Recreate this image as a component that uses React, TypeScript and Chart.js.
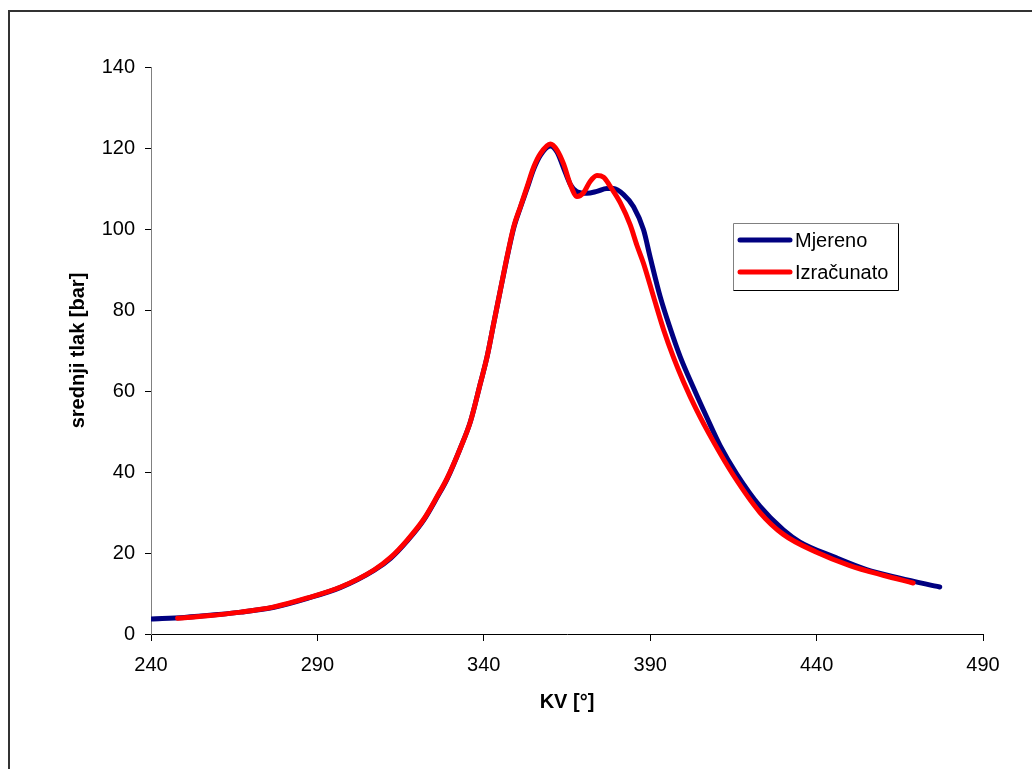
import React, { useEffect, useRef } from "react";
import { Chart, registerables } from "chart.js";

Chart.register(...registerables);

// Mjereno (measured) — crank angle [°] and mean pressure [bar]
const mjerenoKV = [240, 250, 260, 267, 277, 287, 297, 307, 312, 317, 322, 326, 329, 333, 336, 339, 341, 343, 345, 347, 349, 351, 353, 355, 357, 360, 362, 364, 366, 368, 371, 374, 377, 379, 382, 385, 388, 390, 393, 396, 399, 403, 407, 411, 416, 423, 430, 435, 445, 455, 465, 477];
const mjerenoTlak = [3.7, 4.1, 4.8, 5.4, 6.6, 8.8, 11.5, 15.7, 18.7, 23.0, 28.2, 33.8, 38.3, 46, 52.5, 62, 68.5, 76.8, 85, 93, 100.3, 105.3, 110, 114.8, 118.2, 120.5, 119, 115, 111, 109.2, 108.8, 109.3, 110, 110, 108.5, 105.5, 99.8, 93, 83.3, 75.5, 68.5, 60.8, 53.5, 46.5, 39.5, 31.5, 25.7, 22.7, 19.1, 15.9, 13.8, 11.6];

// Izračunato (calculated)
const izracunatoKV = [248, 257, 267, 277, 287, 297, 307, 312, 317, 322, 326, 329, 333, 336, 339, 341, 343, 345, 347, 349, 351, 353, 355, 357, 360, 362, 364, 366, 368, 370, 372, 374, 376, 378, 381, 384, 386, 388, 391, 394, 397, 400, 404, 409, 415, 423, 430, 440, 450, 460, 469];
const izracunatoTlak = [3.9, 4.5, 5.4, 6.7, 8.9, 11.6, 15.8, 18.9, 23.2, 28.4, 34, 38.5, 46, 52.5, 62, 68.5, 76.8, 85, 93.2, 100.6, 105.5, 110.4, 115.3, 118.6, 121, 119.5, 116, 111, 108, 109, 111.8, 113.2, 112.8, 110.5, 106.5, 101, 96, 91.5, 83.3, 75.2, 68.3, 62.3, 55.2, 47.5, 39.2, 30, 24.6, 20.2, 16.9, 14.5, 12.6];

const seriesNames = ["Mjereno", "Izračunato"];
const seriesColors = ["#000080", "#FF0000"];
const xTitle = "KV [°]";
const yTitle = "srednji tlak [bar]";

const FONT = "'Liberation Sans', Arial, sans-serif";

const framePlugin = {
  id: "frameAndLegend",
  afterDraw(chart: any) {
    const ctx = chart.ctx;
    ctx.save();
    // outer chart frame (extends beyond the visible page)
    ctx.strokeStyle = "#333333";
    ctx.lineWidth = 2;
    ctx.beginPath();
    ctx.moveTo(9, 800);
    ctx.lineTo(9, 11);
    ctx.lineTo(1100, 11);
    ctx.stroke();

    // legend box
    const bx = 733, by = 223, bw = 165, bh = 67;
    ctx.lineWidth = 1;
    ctx.strokeStyle = "#808080";
    ctx.beginPath();
    ctx.moveTo(bx + 0.5, by + bh + 0.5);
    ctx.lineTo(bx + 0.5, by + 0.5);
    ctx.lineTo(bx + bw + 0.5, by + 0.5);
    ctx.stroke();
    ctx.strokeStyle = "#000000";
    ctx.beginPath();
    ctx.moveTo(bx + bw + 0.5, by + 0.5);
    ctx.lineTo(bx + bw + 0.5, by + bh + 0.5);
    ctx.lineTo(bx + 0.5, by + bh + 0.5);
    ctx.stroke();
    const rows = [240, 272];
    ctx.font = "20px " + FONT;
    ctx.textBaseline = "middle";
    ctx.textAlign = "left";
    for (let i = 0; i < seriesNames.length; i++) {
      ctx.strokeStyle = seriesColors[i];
      ctx.lineWidth = 5;
      ctx.lineCap = "round";
      ctx.beginPath();
      ctx.moveTo(740, rows[i]);
      ctx.lineTo(790, rows[i]);
      ctx.stroke();
      ctx.fillStyle = "#000000";
      ctx.fillText(seriesNames[i], 795, rows[i] + 1);
    }
    ctx.restore();
  },
};

export default function App() {
  const canvasRef = useRef<HTMLCanvasElement | null>(null);

  useEffect(() => {
    const canvas = canvasRef.current;
    if (!canvas) return;
    const mData = mjerenoKV.map((x, i) => ({ x, y: mjerenoTlak[i] }));
    const iData = izracunatoKV.map((x, i) => ({ x, y: izracunatoTlak[i] }));
    const chart = new Chart(canvas, {
      type: "line",
      data: {
        datasets: [
          {
            label: seriesNames[0],
            data: mData,
            borderColor: seriesColors[0],
            backgroundColor: seriesColors[0],
            borderWidth: 5,
            pointRadius: 0,
            cubicInterpolationMode: "monotone",
            borderCapStyle: "round",
            borderJoinStyle: "round",
            order: 1,
          },
          {
            label: seriesNames[1],
            data: iData,
            borderColor: seriesColors[1],
            backgroundColor: seriesColors[1],
            borderWidth: 5,
            pointRadius: 0,
            cubicInterpolationMode: "monotone",
            borderCapStyle: "round",
            borderJoinStyle: "round",
            order: 0,
          },
        ],
      },
      options: {
        animation: false,
        responsive: false,
        maintainAspectRatio: false,
        layout: { padding: { top: 67, right: 49, left: 0, bottom: 0 } },
        plugins: {
          legend: { display: false },
          tooltip: { enabled: false },
        },
        scales: {
          x: {
            type: "linear",
            min: 240,
            max: 490,
            afterFit: (s: any) => {
              s.height = 135;
            },
            ticks: {
              stepSize: 50,
              color: "#000000",
              padding: 12,
              font: { family: FONT, size: 20 },
            },
            grid: {
              display: true,
              drawOnChartArea: false,
              drawTicks: true,
              tickLength: 7,
              color: "#000000",
            },
            border: { display: true, color: "#000000", width: 1 },
            title: {
              display: true,
              text: xTitle,
              color: "#000000",
              font: { family: FONT, size: 20, weight: "bold" },
              padding: { top: 0, bottom: 55 },
            },
          },
          y: {
            type: "linear",
            min: 0,
            max: 140,
            afterFit: (s: any) => {
              s.width = 151;
            },
            ticks: {
              stepSize: 20,
              color: "#000000",
              padding: 10,
              font: { family: FONT, size: 20 },
            },
            grid: {
              display: true,
              drawOnChartArea: false,
              drawTicks: true,
              tickLength: 6,
              color: "#000000",
            },
            border: { display: true, color: "#808080", width: 1 },
            title: {
              display: true,
              text: yTitle,
              color: "#000000",
              font: { family: FONT, size: 20, weight: "bold" },
              padding: { top: 66, bottom: 0 },
            },
          },
        },
      },
      plugins: [framePlugin],
    });
    return () => chart.destroy();
  }, []);

  return (
    <div
      style={{
        position: "fixed",
        left: 0,
        top: 0,
        width: 1032,
        height: 769,
        background: "#ffffff",
        overflow: "hidden",
      }}
    >
      <canvas ref={canvasRef} width={1032} height={769} style={{ display: "block" }} />
    </div>
  );
}
